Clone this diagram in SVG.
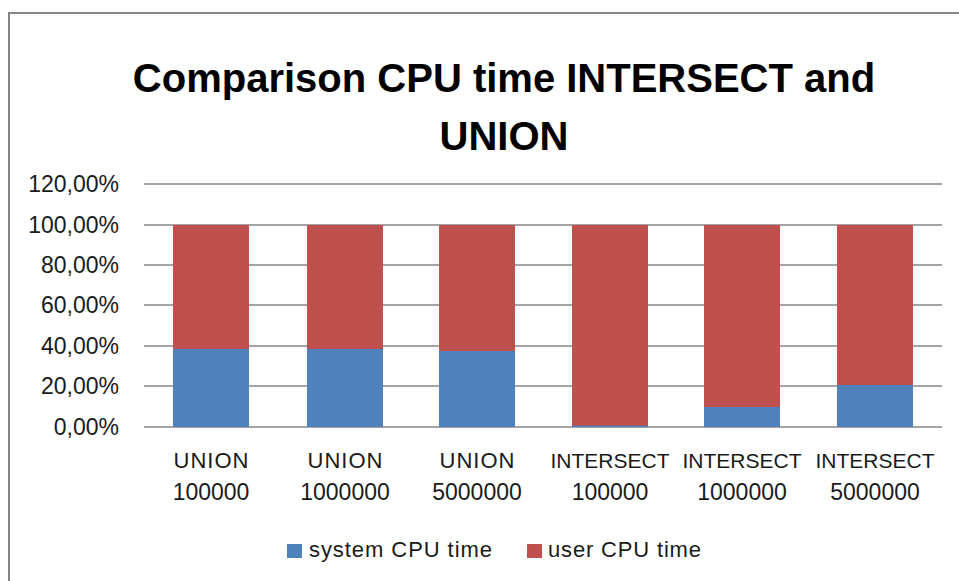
<svg xmlns="http://www.w3.org/2000/svg" width="959" height="581" viewBox="0 0 959 581">
<style>
.t{font-family:"Liberation Sans",Arial,sans-serif;fill:#000}
.ax{font-size:21px;fill:#1a1a1a}
.num{font-size:23px}
.un{font-size:22px}
.grid{stroke:#868686;stroke-width:1.3}
.sys{fill:#4F81BD}
.usr{fill:#C0504D}
</style>
<rect x="0" y="0" width="959" height="581" fill="#fff"/>
<rect x="9" y="13" width="960" height="580" fill="#fff" stroke="#868686" stroke-width="2"/>
<g id="title" class="t" font-weight="bold" font-size="40" text-anchor="middle">
<text x="504" y="92">Comparison CPU time INTERSECT and</text>
<text x="504" y="150">UNION</text>
</g>
<g id="gridlines">
<line class="grid" x1="144" y1="184" x2="942" y2="184"/>
<line class="grid" x1="144" y1="225" x2="942" y2="225"/>
<line class="grid" x1="144" y1="265" x2="942" y2="265"/>
<line class="grid" x1="144" y1="305" x2="942" y2="305"/>
<line class="grid" x1="144" y1="346" x2="942" y2="346"/>
<line class="grid" x1="144" y1="386" x2="942" y2="386"/>
<line class="grid" x1="144" y1="427" x2="942" y2="427"/>
</g>
<g id="yaxis" class="t ax num" text-anchor="end">
<text x="119" y="192">120,00%</text>
<text x="119" y="233">100,00%</text>
<text x="119" y="273">80,00%</text>
<text x="119" y="313">60,00%</text>
<text x="119" y="354">40,00%</text>
<text x="119" y="394">20,00%</text>
<text x="119" y="435">0,00%</text>
</g>
<g id="bars">
<g id="bar1"><rect class="usr" x="173" y="225" width="76" height="124"/><rect class="sys" x="173" y="349" width="76" height="78"/></g>
<g id="bar2"><rect class="usr" x="307" y="225" width="76" height="124"/><rect class="sys" x="307" y="349" width="76" height="78"/></g>
<g id="bar3"><rect class="usr" x="439" y="225" width="76" height="126"/><rect class="sys" x="439" y="351" width="76" height="76"/></g>
<g id="bar4"><rect class="usr" x="572" y="225" width="76" height="201"/><rect class="sys" x="572" y="425.6" width="76" height="1.4"/></g>
<g id="bar5"><rect class="usr" x="704" y="225" width="76" height="182"/><rect class="sys" x="704" y="407" width="76" height="20"/></g>
<g id="bar6"><rect class="usr" x="837" y="225" width="76" height="160"/><rect class="sys" x="837" y="385" width="76" height="42"/></g>
</g>
<g id="xaxis" class="t ax" text-anchor="middle">
<text class="un" x="211" y="468" textLength="75" lengthAdjust="spacing">UNION</text><text class="num" x="211" y="500">100000</text>
<text class="un" x="345" y="468" textLength="75" lengthAdjust="spacing">UNION</text><text class="num" x="345" y="500">1000000</text>
<text class="un" x="477" y="468" textLength="75" lengthAdjust="spacing">UNION</text><text class="num" x="477" y="500">5000000</text>
<text x="610" y="468">INTERSECT</text><text class="num" x="610" y="500">100000</text>
<text x="742" y="468">INTERSECT</text><text class="num" x="742" y="500">1000000</text>
<text x="875" y="468">INTERSECT</text><text class="num" x="875" y="500">5000000</text>
</g>
<g id="legend" class="t ax">
<rect class="sys" x="287" y="544" width="15" height="14"/>
<text x="309" y="557" font-size="22" textLength="183" lengthAdjust="spacing">system CPU time</text>
<rect class="usr" x="527" y="544" width="15" height="14"/>
<text x="548" y="557" font-size="22" textLength="153" lengthAdjust="spacing">user CPU time</text>
</g>
</svg>
